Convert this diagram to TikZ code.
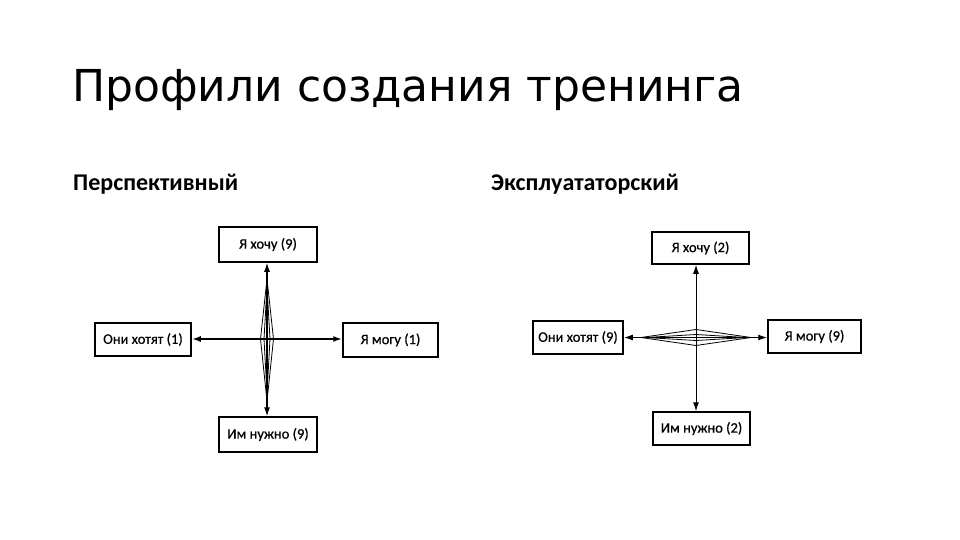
\documentclass[tikz,border=0pt]{standalone}
\usepackage{fontspec}
\setmainfont{Carlito}
\newfontfamily\titlefont{DejaVu Sans}
\newfontfamily\boxfont{Carlito}[FakeBold=0.6]
\usetikzlibrary{arrows.meta,calc}
\begin{document}
\begin{tikzpicture}[x=1pt,y=-1pt,
  box/.style={draw=black,line width=1.5pt,inner sep=0pt,font=\boxfont\fontsize{14.5}{16}\selectfont},
  head/.style={anchor=base west,inner sep=0pt,font=\fontsize{24}{27}\selectfont\bfseries},
  conn/.style={line width=1.2pt,{Latex[length=9pt,width=6pt]}-{Latex[length=9pt,width=6pt]}},
  thick conn/.style={line width=2pt,{Latex[length=9pt,width=6pt]}-{Latex[length=9pt,width=6pt]}},
  lens/.style={line width=0.8pt}]
\useasboundingbox (0,0) rectangle (960,540);
\fill[white] (0,0) rectangle (960,540);
\node[anchor=base west,inner sep=0pt,font=\titlefont\fontsize{44}{48}\selectfont] (title) at (72,102) {Профили создания тренинга};
\node[head] (h1) at (73,190) {Перспективный};
\node[head] (h2) at (491,190) {Эксплуататорский};
% left diagram
\node[box,minimum width=98pt,minimum height=35pt] (t1) at (268,244.5) {Я хочу (9)};
\node[box,minimum width=96pt,minimum height=33pt] (l1) at (143,339.5) {Они хотят (1)};
\node[box,minimum width=95pt,minimum height=34pt] (r1) at (390.5,340) {Я могу (1)};
\node[box,minimum width=98pt,minimum height=35pt] (b1) at (268,434.5) {Им нужно (9)};
\coordinate (c1) at (267,339);
\draw[conn] (t1.south -| c1) -- (b1.north -| c1);
\draw[thick conn] (l1.east |- c1) -- (r1.west |- c1);
\draw[lens] ($(c1)+(0,-60)$) -- ($(c1)+(6.5,0)$) -- ($(c1)+(0,62)$) -- ($(c1)+(-6.5,0)$) -- cycle;
\draw[lens] ($(c1)+(0,-52)$) -- ($(c1)+(3,0)$) -- ($(c1)+(0,54)$) -- ($(c1)+(-3,0)$) -- cycle;
% right diagram
\node[box,minimum width=97pt,minimum height=32pt] (t2) at (700.5,248) {Я хочу (2)};
\node[box,minimum width=90pt,minimum height=33pt] (l2) at (578,337.5) {Они хотят (9)};
\node[box,minimum width=93pt,minimum height=33pt] (r2) at (814.5,336.5) {Я могу (9)};
\node[box,minimum width=97pt,minimum height=33pt] (b2) at (701.5,428.5) {Им нужно (2)};
\coordinate (c2) at (696,337.5);
\draw[conn,line width=1pt] (t2.south -| c2) -- (b2.north -| c2);
\draw[conn,line width=1.4pt] (l2.east |- c2) -- (r2.west |- c2);
\draw[lens] ($(c2)+(-55,0)$) -- ($(c2)+(0,-8)$) -- ($(c2)+(55,0)$) -- ($(c2)+(0,8)$) -- cycle;
\draw[lens] ($(c2)+(-50,0)$) -- ($(c2)+(0,-3)$) -- ($(c2)+(50,0)$) -- ($(c2)+(0,3)$) -- cycle;
\end{tikzpicture}
\end{document}
